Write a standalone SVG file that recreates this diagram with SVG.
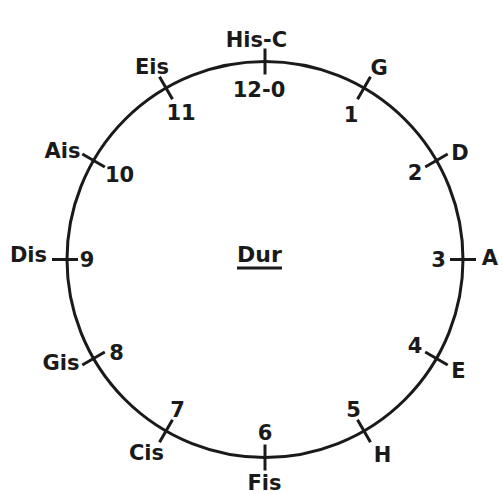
<svg xmlns="http://www.w3.org/2000/svg" width="503" height="494" viewBox="0 0 503 494">
<style>
.t{font-family:"DejaVu Sans","Liberation Sans",sans-serif;font-weight:bold;font-size:21px;fill:#1a1a1a;text-anchor:middle}
.k{stroke:#1a1a1a;stroke-width:3;stroke-linecap:butt}
.c{fill:none;stroke:#1a1a1a;stroke-width:3}
</style>
<rect width="503" height="494" fill="#ffffff"/>
<g id="circle"><circle class="c" cx="265" cy="259.5" r="198"/></g>
<g id="connectors">
<line class="k" x1="265" y1="74.5" x2="265" y2="48.5"/>
<line class="k" x1="357.5" y1="99.3" x2="370.5" y2="76.8"/>
<line class="k" x1="425.2" y1="167" x2="447.7" y2="154"/>
<line class="k" x1="450" y1="259.5" x2="476" y2="259.5"/>
<line class="k" x1="425.2" y1="352" x2="447.7" y2="365"/>
<line class="k" x1="357.5" y1="419.7" x2="370.5" y2="442.2"/>
<line class="k" x1="265" y1="444.5" x2="265" y2="470.5"/>
<line class="k" x1="172.5" y1="419.7" x2="159.5" y2="442.2"/>
<line class="k" x1="104.8" y1="352" x2="82.3" y2="365"/>
<line class="k" x1="78" y1="259.5" x2="52" y2="259.5"/>
<line class="k" x1="104.8" y1="167" x2="82.3" y2="154"/>
<line class="k" x1="172.5" y1="99.3" x2="159.5" y2="76.8"/>
</g>
<g id="p0"><text class="t" x="256.5" y="47">His-C</text><text class="t" x="259" y="97">12-0</text></g>
<g id="p1"><text class="t" x="379" y="75">G</text><text class="t" x="351" y="122">1</text></g>
<g id="p2"><text class="t" x="460" y="160">D</text><text class="t" x="415" y="180">2</text></g>
<g id="p3"><text class="t" x="490" y="265">A</text><text class="t" x="438.5" y="267">3</text></g>
<g id="p4"><text class="t" x="458.5" y="378">E</text><text class="t" x="415" y="353">4</text></g>
<g id="p5"><text class="t" x="382.5" y="462">H</text><text class="t" x="353.5" y="417">5</text></g>
<g id="p6"><text class="t" x="264.5" y="490">Fis</text><text class="t" x="265" y="440">6</text></g>
<g id="p7"><text class="t" x="146.5" y="460">Cis</text><text class="t" x="177.5" y="417">7</text></g>
<g id="p8"><text class="t" x="61" y="370">Gis</text><text class="t" x="116.5" y="360">8</text></g>
<g id="p9"><text class="t" x="28.5" y="262">Dis</text><text class="t" x="87" y="267">9</text></g>
<g id="p10"><text class="t" x="62.5" y="158">Ais</text><text class="t" x="119.5" y="182">10</text></g>
<g id="p11"><text class="t" x="152" y="74">Eis</text><text class="t" x="181" y="120">11</text></g>
<g id="title"><text class="t" x="259.5" y="262" style="font-size:22px">Dur</text><line class="k" x1="237" y1="268" x2="282" y2="268" stroke-width="2.5"/></g>
</svg>
